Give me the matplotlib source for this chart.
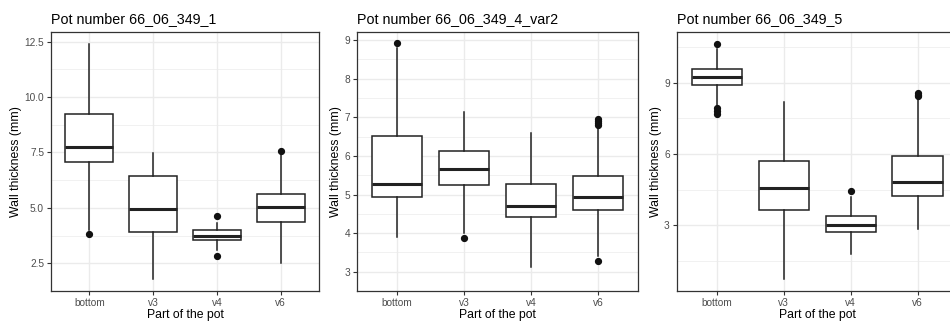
import matplotlib
matplotlib.use("Agg")
import matplotlib.pyplot as plt
import numpy as np

plt.rcParams['font.family'] = ['Liberation Sans', 'DejaVu Sans']

parts = ["bottom", "v3", "v4", "v6"]
titles = ["Pot number 66_06_349_1", "Pot number 66_06_349_4_var2", "Pot number 66_06_349_5"]

# box stats per pot: [bottom, v3, v4, v6]
pot1_whislo = [4.0, 1.78, 3.10, 2.50]
pot1_q1 = [7.06, 3.89, 3.53, 4.37]
pot1_med = [7.75, 4.94, 3.74, 5.03]
pot1_q3 = [9.22, 6.44, 3.98, 5.63]
pot1_whishi = [12.40, 7.46, 4.30, 7.40]
pot1_fliers = [[3.82], [], [4.64, 2.84], [7.57]]

pot2_whislo = [3.91, 4.0, 3.12, 3.40]
pot2_q1 = [4.94, 5.24, 4.41, 4.60]
pot2_med = [5.27, 5.67, 4.71, 4.93]
pot2_q3 = [6.52, 6.13, 5.28, 5.48]
pot2_whishi = [8.80, 7.13, 6.60, 6.75]
pot2_fliers = [[8.92], [3.87], [], [6.95, 6.90, 6.85, 6.80, 3.27]]

pot3_whislo = [8.05, 0.74, 1.81, 2.85]
pot3_q1 = [8.90, 3.66, 2.72, 4.22]
pot3_med = [9.25, 4.56, 3.03, 4.81]
pot3_q3 = [9.59, 5.69, 3.39, 5.91]
pot3_whishi = [10.40, 8.18, 4.20, 8.30]
pot3_fliers = [[10.64, 7.92, 7.80, 7.70], [], [4.43], [8.58, 8.50, 8.44]]

yticks = [[2.5, 5.0, 7.5, 10.0, 12.5], [3, 4, 5, 6, 7, 8, 9], [3, 6, 9]]
ytick_labels = [["2.5", "5.0", "7.5", "10.0", "12.5"],
                ["3", "4", "5", "6", "7", "8", "9"],
                ["3", "6", "9"]]

pots = [
    (pot1_whislo, pot1_q1, pot1_med, pot1_q3, pot1_whishi, pot1_fliers),
    (pot2_whislo, pot2_q1, pot2_med, pot2_q3, pot2_whishi, pot2_fliers),
    (pot3_whislo, pot3_q1, pot3_med, pot3_q3, pot3_whishi, pot3_fliers),
]

fig = plt.figure(figsize=(9.5, 3.21), dpi=100)
W, H = 950.0, 321.0
# panel rectangles in pixels (left, width)
rects = [(51, 268), (357, 281), (676.7, 281)]
top_px, bot_px = 32, 291

grey20 = "#333333"
grey30 = "#4D4D4D"
grid = "#EBEBEB"

for i, (left, width) in enumerate(rects):
    ax = fig.add_axes([left / W, (H - bot_px) / H, width / W, (bot_px - top_px) / H])
    whislo, q1, med, q3, whishi, fliers = pots[i]
    stats = []
    for j in range(len(parts)):
        stats.append(dict(whislo=whislo[j], q1=q1[j], med=med[j], q3=q3[j],
                          whishi=whishi[j], fliers=fliers[j], label=parts[j]))
    ax.bxp(stats, positions=range(1, 5), widths=0.75, showcaps=False, patch_artist=True,
           boxprops=dict(facecolor="white", edgecolor="#222222", linewidth=1.1),
           whiskerprops=dict(color="#222222", linewidth=1.1),
           medianprops=dict(color="#222222", linewidth=2.2),
           flierprops=dict(marker="o", markerfacecolor="#111111", markeredgecolor="#111111",
                           markersize=4.2),
           zorder=3)

    lo = min(min(whislo), min(min(f) for f in fliers if f))
    hi = max(max(whishi), max(max(f) for f in fliers if f))
    pad = (hi - lo) * 0.05
    ax.set_ylim(lo - pad, hi + pad)
    ax.set_xlim(0.4, 4.6)

    ax.set_yticks(yticks[i])
    ax.set_yticklabels(ytick_labels[i])
    yt = yticks[i]
    step = yt[1] - yt[0]
    minors = np.arange(yt[0] - step / 2, hi + pad, step)
    ax.set_yticks(minors, minor=True)
    ax.set_xticks(range(1, 5))
    ax.set_xticklabels(parts)

    ax.grid(True, which="major", color=grid, linewidth=1.0, zorder=0)
    ax.grid(True, which="minor", axis="y", color=grid, linewidth=0.5, zorder=0)
    ax.set_axisbelow(True)
    ax.tick_params(which="minor", length=0)
    ax.tick_params(which="major", length=3, width=0.8, color=grey20,
                   labelsize=7.3, labelcolor=grey30, pad=2)
    for s in ax.spines.values():
        s.set_color(grey20)
        s.set_linewidth(0.9)

    ax.set_xlabel("Part of the pot", fontsize=8.8, labelpad=1)
    ax.set_ylabel("Wall thickness (mm)", fontsize=8.8, labelpad=1.5)
    ax.set_title(titles[i], fontsize=10.3, loc="left", pad=6.3)

fig.savefig("out.png", dpi=100)
